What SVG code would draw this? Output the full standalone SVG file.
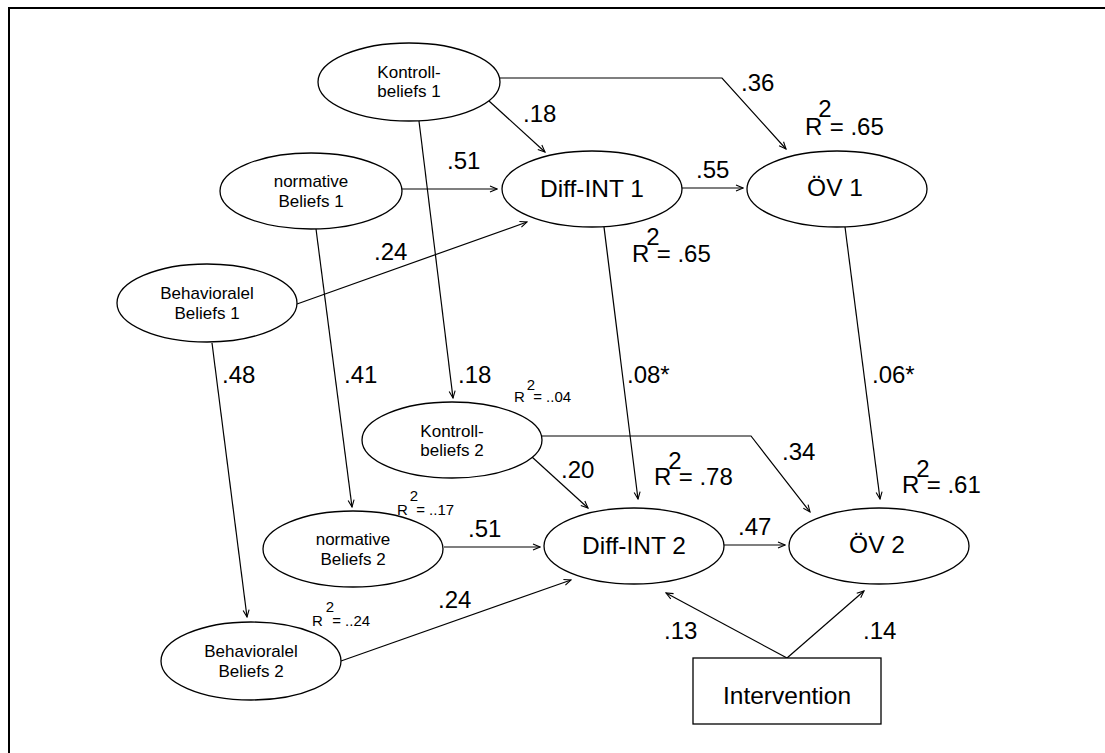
<svg xmlns="http://www.w3.org/2000/svg" width="1105" height="753" viewBox="0 0 1105 753">
  <style>
    .node ellipse, .node rect { fill: #fff; stroke: #000; stroke-width: 1.3; }
    .nt { font-family: "Liberation Sans", Arial, sans-serif; font-size: 17px; fill: #000; text-anchor: middle; }
    .bt { font-family: "Liberation Sans", Arial, sans-serif; font-size: 24.5px; fill: #000; text-anchor: middle; }
    .lbl { font-family: "Liberation Sans", Arial, sans-serif; font-size: 24px; fill: #000; }
    .sm { font-family: "Liberation Sans", Arial, sans-serif; font-size: 15px; fill: #000; }
    #connectors path { fill: none; stroke: #000; stroke-width: 1.2; marker-end: url(#arr); }
  </style>
  <defs>
    <marker id="arr" markerWidth="9" markerHeight="8" refX="8" refY="4" orient="auto" markerUnits="userSpaceOnUse">
      <path d="M1,1 L8,4 L1,7" fill="none" stroke="#000" stroke-width="1.1"/>
    </marker>
  </defs>
  <rect width="1105" height="753" fill="#fff"/>
  <!-- frame -->
  <path d="M9,753 L9,8 L1105,8" fill="none" stroke="#000" stroke-width="2"/>

  <g id="connectors">
    <path d="M500,78 L722,78 L786,149"/>
    <path d="M489,101 L545,152"/>
    <path d="M402,189 L497,189"/>
    <path d="M297,304 L527,222"/>
    <path d="M682,188 L743,188"/>
    <path d="M419,121 L453,398"/>
    <path d="M316,229 L352,507"/>
    <path d="M212,343 L247,617"/>
    <path d="M604,227 L638,499"/>
    <path d="M845,227 L880,499"/>
    <path d="M542,436 L751,436 L810,512"/>
    <path d="M532,457 L588,508"/>
    <path d="M444,547 L540,547"/>
    <path d="M341,661 L571,580"/>
    <path d="M724,545 L785,545"/>
    <path d="M787,658 L666,593"/>
    <path d="M787,658 L864,591"/>
  </g>

  <g id="kontroll1" class="node">
    <ellipse cx="409" cy="82" rx="91" ry="39"/>
    <text class="nt" x="409" y="78">Kontroll-</text>
    <text class="nt" x="409" y="97">beliefs 1</text>
  </g>
  <g id="normative1" class="node">
    <ellipse cx="311" cy="191" rx="91" ry="38"/>
    <text class="nt" x="311" y="187">normative</text>
    <text class="nt" x="311" y="207">Beliefs 1</text>
  </g>
  <g id="behavioral1" class="node">
    <ellipse cx="207" cy="303" rx="90" ry="39"/>
    <text class="nt" x="207" y="299">Behavioralel</text>
    <text class="nt" x="207" y="319">Beliefs 1</text>
  </g>
  <g id="diffint1" class="node">
    <ellipse cx="592" cy="189" rx="90" ry="38"/>
    <text class="bt" x="592" y="197">Diff-INT 1</text>
  </g>
  <g id="oev1" class="node">
    <ellipse cx="837" cy="189" rx="90" ry="38"/>
    <text class="bt" x="835" y="196">ÖV 1</text>
  </g>
  <g id="kontroll2" class="node">
    <ellipse cx="452" cy="440" rx="90" ry="38"/>
    <text class="nt" x="452" y="437">Kontroll-</text>
    <text class="nt" x="452" y="456">beliefs 2</text>
  </g>
  <g id="normative2" class="node">
    <ellipse cx="353" cy="549" rx="90" ry="38"/>
    <text class="nt" x="353" y="545">normative</text>
    <text class="nt" x="353" y="565">Beliefs 2</text>
  </g>
  <g id="behavioral2" class="node">
    <ellipse cx="251" cy="661" rx="90" ry="39"/>
    <text class="nt" x="251" y="657">Behavioralel</text>
    <text class="nt" x="251" y="677">Beliefs 2</text>
  </g>
  <g id="diffint2" class="node">
    <ellipse cx="634" cy="546" rx="90" ry="38"/>
    <text class="bt" x="634" y="554">Diff-INT 2</text>
  </g>
  <g id="oev2" class="node">
    <ellipse cx="879" cy="546" rx="90" ry="38"/>
    <text class="bt" x="877" y="553">ÖV 2</text>
  </g>
  <g id="intervention" class="node">
    <rect x="693" y="658" width="188" height="66"/>
    <text class="bt" x="787" y="704">Intervention</text>
  </g>

  <g id="path-coefficients">
    <text class="lbl" x="741" y="91">.36</text>
    <text class="lbl" x="523" y="122">.18</text>
    <text class="lbl" x="447" y="169">.51</text>
    <text class="lbl" x="696" y="178">.55</text>
    <text class="lbl" x="374" y="260">.24</text>
    <text class="lbl" x="222" y="383">.48</text>
    <text class="lbl" x="344" y="383">.41</text>
    <text class="lbl" x="458" y="383">.18</text>
    <text class="lbl" x="627" y="383">.08*</text>
    <text class="lbl" x="872" y="383">.06*</text>
    <text class="lbl" x="561" y="478">.20</text>
    <text class="lbl" x="782" y="460">.34</text>
    <text class="lbl" x="468" y="537">.51</text>
    <text class="lbl" x="738" y="535">.47</text>
    <text class="lbl" x="438" y="608">.24</text>
    <text class="lbl" x="664" y="639">.13</text>
    <text class="lbl" x="863" y="639">.14</text>
  </g>

  <!-- explained variance, R with a raised 2 -->
  <g id="r-squared">
    <text class="lbl" x="805" y="135">R<tspan dx="-4" dy="-18">2</tspan><tspan dx="-2" dy="18">= .65</tspan></text>
    <text class="lbl" x="632" y="262">R<tspan dx="-3" dy="-17">2</tspan><tspan dx="-3" dy="17">= .65</tspan></text>
    <text class="lbl" x="654" y="485">R<tspan dx="-3" dy="-16">2</tspan><tspan dx="-3" dy="16">= .78</tspan></text>
    <text class="lbl" x="902" y="493">R<tspan dx="-3" dy="-16">2</tspan><tspan dx="-3" dy="16">= .61</tspan></text>
    <text class="sm" x="514" y="402">R<tspan dx="2" dy="-12">2</tspan><tspan dx="-2" dy="12">= ..04</tspan></text>
    <text class="sm" x="397" y="515">R<tspan dx="2" dy="-14">2</tspan><tspan dx="-2" dy="14">= ..17</tspan></text>
    <text class="sm" x="312" y="626">R<tspan dx="3" dy="-14">2</tspan><tspan dx="-2" dy="14">= ..24</tspan></text>
  </g>
</svg>
